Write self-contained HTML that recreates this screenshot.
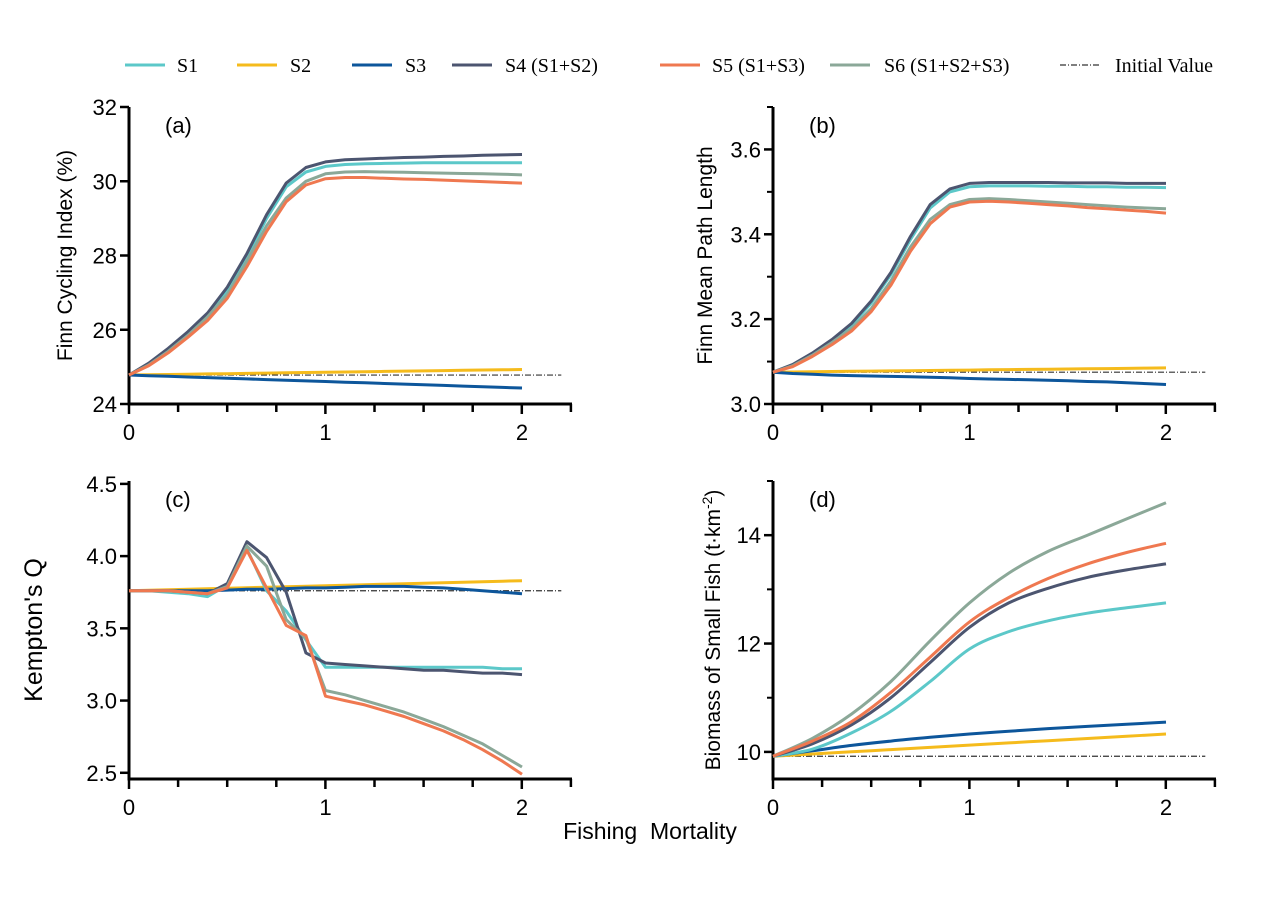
<!DOCTYPE html>
<html><head><meta charset="utf-8"><style>
body{margin:0;background:#fff}
svg text{font-family:"Liberation Sans",sans-serif;fill:#000}
</style></head><body>
<svg id="s" width="1268" height="893" xmlns="http://www.w3.org/2000/svg"></svg>
<script>
const C={S1:"#5cc8c9",S2:"#f5bb1c",S3:"#0d569b",S4:"#4c5570",S5:"#ef7850",S6:"#8ba898"};
let h='';
const leg=[["S1",125,177],["S2",237,290],["S3",352,405],["S4 (S1+S2)",452,505],["S5 (S1+S3)",660,712],["S6 (S1+S2+S3)",830,884]];
leg.forEach(([n,x,t])=>{h+=`<line x1="${x}" y1="65" x2="${x+40}" y2="65" stroke="${C[n.slice(0,2)]}" stroke-width="3"/><text x="${t}" y="72" style="font-family:'Liberation Serif',serif;font-size:20px">${n}</text>`;});
h+=`<line x1="1060" y1="65" x2="1100" y2="65" stroke="#333" stroke-width="1.2" stroke-dasharray="6,2,1,2"/><text x="1115" y="72" style="font-family:'Liberation Serif',serif;font-size:20px">Initial Value</text>`;
function smoothPath(p){let d=`M${p[0][0]},${p[0][1]}`;for(let i=0;i<p.length-1;i++){const a=p[i-1]||p[i],b=p[i],c=p[i+1],e=p[i+2]||c;
 d+=` C${(b[0]+(c[0]-a[0])/6).toFixed(1)},${(b[1]+(c[1]-a[1])/6).toFixed(1)} ${(c[0]-(e[0]-b[0])/6).toFixed(1)},${(c[1]-(e[1]-b[1])/6).toFixed(1)} ${c[0].toFixed(1)},${c[1].toFixed(1)}`;}return d;}
function panel(o){
 const {x0,yb,yt,vmin,vmax,ticks,minor,lab,series,init,ylab,lx,fs}=o;
 const X=v=>x0+v*196.5, Y=v=>yb-(v-vmin)/(vmax-vmin)*(yb-yt);
 h+=`<line x1="${x0}" y1="${yt}" x2="${x0}" y2="${yb+1.5}" stroke="#000" stroke-width="3"/>`;
 h+=`<line x1="${x0-1.5}" y1="${yb}" x2="${x0+443}" y2="${yb}" stroke="#000" stroke-width="3"/>`;
 for(let i=0;i<=9;i++){const xx=x0+i*49.1;h+=`<line x1="${xx}" y1="${yb}" x2="${xx}" y2="${yb+(i%4==0?10:8)}" stroke="#000" stroke-width="2.5"/>`;}
 [0,1,2].forEach(i=>h+=`<text x="${X(i)}" y="${yb+36}" text-anchor="middle" font-size="22">${i}</text>`);
 ticks.forEach(t=>{h+=`<line x1="${x0-9}" y1="${Y(t)}" x2="${x0}" y2="${Y(t)}" stroke="#000" stroke-width="2.5"/><text x="${x0-12}" y="${Y(t)+8}" text-anchor="end" font-size="22">${o.fmt?o.fmt(t):t}</text>`;});
 (minor||[]).forEach(t=>h+=`<line x1="${x0-6}" y1="${Y(t)}" x2="${x0}" y2="${Y(t)}" stroke="#000" stroke-width="2"/>`);
 h+=`<text x="${x0+36}" y="${yt+26}" font-size="22">${lab}</text>`;
 h+=`<line x1="${X(0)}" y1="${Y(init)}" x2="${X(2.2)}" y2="${Y(init)}" stroke="#333" stroke-width="1.2" stroke-dasharray="6,2,1,2"/>`;
 ["S2","S3","S1","S4","S6","S5"].forEach(k=>{const d=series[k];const st=2/(d.length-1);
  const pts=d.map((v,i)=>[X(i*st),Y(v)]);
  if(o.smooth) h+=`<path fill="none" stroke="${C[k]}" stroke-width="3" d="${smoothPath(pts)}"/>`;
  else h+=`<polyline fill="none" stroke="${C[k]}" stroke-width="3" stroke-linejoin="round" points="${pts.map(p=>p[0].toFixed(1)+','+p[1].toFixed(1)).join(' ')}"/>`;});
 h+=`<text transform="translate(${lx},${(yt+yb)/2}) rotate(-90)" text-anchor="middle" font-size="${fs||21}">${ylab}</text>`;
}
const lin=(a,b,n)=>Array.from({length:n},(_,i)=>a+(b-a)*i/(n-1));
panel({x0:129,yb:404,yt:107,vmin:24,vmax:32,ticks:[24,26,28,30,32],lab:"(a)",init:24.78,ylab:"Finn Cycling Index (%)",lx:72,
series:{S4:[24.78,25.1,25.5,25.95,26.45,27.15,28.05,29.1,29.95,30.37,30.52,30.58,30.6,30.62,30.64,30.65,30.67,30.68,30.7,30.71,30.72],
S1:[24.78,25.08,25.47,25.9,26.4,27.05,27.95,29.0,29.85,30.25,30.4,30.45,30.47,30.48,30.49,30.5,30.5,30.5,30.5,30.5,30.5],
S6:[24.78,25.05,25.42,25.85,26.35,26.95,27.85,28.8,29.55,30.0,30.2,30.25,30.26,30.25,30.24,30.23,30.22,30.21,30.2,30.19,30.17],
S5:[24.78,25.03,25.38,25.8,26.25,26.85,27.7,28.65,29.45,29.9,30.07,30.1,30.1,30.08,30.06,30.05,30.03,30.01,29.99,29.97,29.95],
S2:lin(24.78,24.93,21),S3:lin(24.78,24.43,21)}});
panel({x0:773,yb:404,yt:107,vmin:3.0,vmax:3.7,ticks:[3.0,3.2,3.4,3.6],minor:[3.1,3.3,3.5,3.7],fmt:t=>t.toFixed(1),lab:"(b)",init:3.075,ylab:"Finn Mean Path Length",lx:712,
series:{S4:[3.075,3.093,3.12,3.152,3.19,3.243,3.31,3.395,3.47,3.507,3.52,3.522,3.522,3.522,3.522,3.521,3.521,3.521,3.52,3.52,3.52],
S1:[3.075,3.092,3.118,3.15,3.186,3.238,3.305,3.388,3.462,3.5,3.512,3.514,3.514,3.514,3.513,3.513,3.512,3.512,3.511,3.511,3.51],
S6:[3.075,3.09,3.115,3.145,3.178,3.225,3.29,3.37,3.435,3.47,3.482,3.484,3.482,3.479,3.476,3.473,3.47,3.467,3.464,3.462,3.46],
S5:[3.075,3.088,3.112,3.14,3.172,3.218,3.28,3.36,3.425,3.464,3.476,3.478,3.476,3.473,3.47,3.467,3.463,3.46,3.457,3.454,3.45],
S2:lin(3.075,3.085,21),S3:[3.075,3.072,3.07,3.068,3.067,3.066,3.065,3.064,3.063,3.062,3.06,3.059,3.058,3.057,3.056,3.055,3.053,3.052,3.05,3.048,3.046]}});
panel({x0:129,yb:779,yt:481,vmin:2.457,vmax:4.52,ticks:[2.5,3.0,3.5,4.0,4.5],fmt:t=>t.toFixed(1),lab:"(c)",init:3.76,ylab:"Kempton's Q",lx:42,fs:25,
series:{S1:[3.76,3.76,3.75,3.74,3.72,3.8,4.05,3.76,3.62,3.42,3.23,3.23,3.23,3.23,3.23,3.23,3.23,3.23,3.23,3.22,3.22],
S4:[3.76,3.76,3.76,3.75,3.74,3.81,4.1,3.99,3.75,3.33,3.26,3.25,3.24,3.23,3.22,3.21,3.21,3.2,3.19,3.19,3.18],
S6:[3.76,3.76,3.76,3.75,3.74,3.79,4.07,3.93,3.56,3.43,3.07,3.04,3.0,2.96,2.92,2.87,2.82,2.76,2.7,2.62,2.54],
S5:[3.76,3.76,3.76,3.75,3.74,3.78,4.04,3.78,3.52,3.45,3.03,3.0,2.97,2.93,2.89,2.84,2.79,2.73,2.66,2.58,2.49],
S2:lin(3.76,3.83,21),S3:[3.76,3.76,3.76,3.76,3.76,3.765,3.77,3.77,3.775,3.78,3.78,3.785,3.79,3.79,3.79,3.785,3.78,3.77,3.76,3.75,3.74]}});
panel({x0:773,yb:779,yt:481,vmin:9.5,vmax:15,ticks:[10,12,14],minor:[11,13,15],lab:"(d)",init:9.92,smooth:true,ylab:"Biomass of Small Fish (t·km<tspan dy='-8' font-size='14'>-2</tspan><tspan dy='8'>)</tspan>",lx:720,
series:{S6:[9.92,10.25,10.7,11.3,12.05,12.75,13.3,13.7,14.0,14.3,14.6],
S5:[9.92,10.2,10.56,11.1,11.75,12.4,12.85,13.2,13.47,13.68,13.85],
S4:[9.92,10.15,10.5,11.0,11.65,12.3,12.75,13.02,13.22,13.36,13.47],
S1:[9.92,10.05,10.35,10.75,11.3,11.9,12.22,12.42,12.56,12.66,12.75],
S3:[9.92,10.02,10.12,10.2,10.27,10.33,10.38,10.43,10.47,10.51,10.55],S2:lin(9.92,10.33,11)}});
h+=`<text x="650" y="839" text-anchor="middle" font-size="23" xml:space="preserve" style="white-space:pre">Fishing  Mortality</text>`;
document.getElementById('s').innerHTML=h;
</script>
</body></html>
